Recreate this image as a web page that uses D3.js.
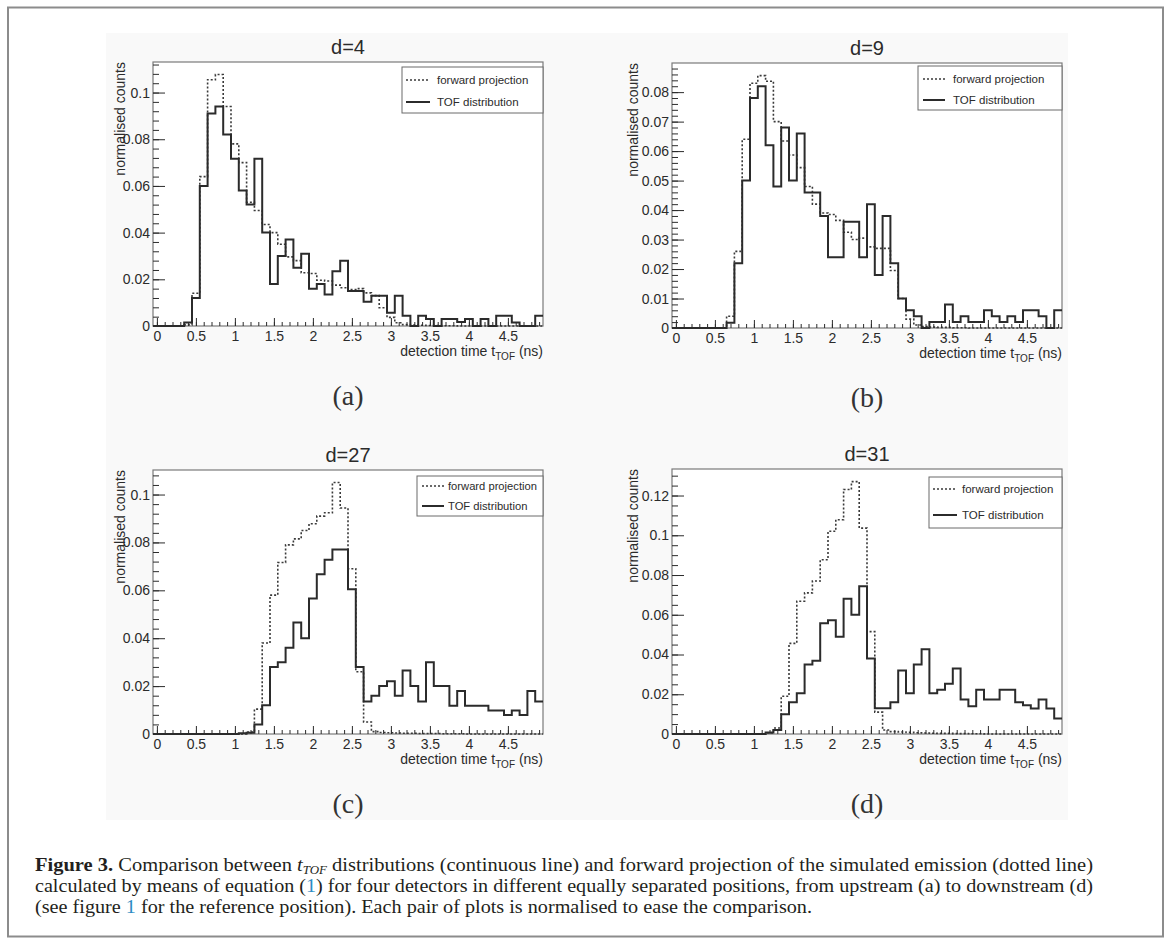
<!DOCTYPE html>
<html>
<head>
<meta charset="utf-8">
<script src="https://cdn.jsdelivr.net/npm/d3@7"></script>
<style>
  html, body { margin: 0; padding: 0; background: #fff; }
  svg { display: block; }
  .caption { font-family: "Liberation Serif", "Times New Roman", serif; fill: #231f20; }
</style>
</head>
<body>
<svg id="fig" width="1170" height="938"></svg>
<script>
// histogram bins: centres in ns, width 0.1 ns
const BIN_WIDTH = 0.1;
const binCentres = [0, 0.1, 0.2, 0.3, 0.4, 0.5, 0.6, 0.7, 0.8, 0.9,
  1.0, 1.1, 1.2, 1.3, 1.4, 1.5, 1.6, 1.7, 1.8, 1.9,
  2.0, 2.1, 2.2, 2.3, 2.4, 2.5, 2.6, 2.7, 2.8, 2.9,
  3.0, 3.1, 3.2, 3.3, 3.4, 3.5, 3.6, 3.7, 3.8, 3.9,
  4.0, 4.1, 4.2, 4.3, 4.4, 4.5, 4.6, 4.7, 4.8, 4.9];

// d=4
const tofD4 = [0, 0, 0, 0, 0.0015, 0.012, 0.060, 0.091, 0.094, 0.082,
  0.0716, 0.058, 0.052, 0.0716, 0.040, 0.018, 0.030, 0.037, 0.025, 0.031,
  0.016, 0.018, 0.0135, 0.0235, 0.028, 0.015, 0.015, 0.0104, 0.013, 0.013,
  0.0057, 0.013, 0.0044, 0, 0.0044, 0.003, 0, 0.003, 0.003, 0.0017,
  0.003, 0, 0.003, 0, 0.0044, 0.0044, 0.0015, 0, 0, 0.0044];
const fwdD4 = [0, 0, 0, 0, 0.0005, 0.014, 0.064, 0.1055, 0.1077, 0.094,
  0.078, 0.070, 0.053, 0.0495, 0.0435, 0.040, 0.035, 0.0296, 0.028, 0.0228,
  0.0225, 0.0196, 0.0193, 0.0175, 0.0164, 0.0156, 0.016, 0.0142, 0.013, 0.0078,
  0.0037, 0.0014, 0.0006, 0.0004, 0.0003, 0.0002, 0.0002, 0.0001, 0.0001, 0,
  0, 0, 0, 0, 0, 0, 0, 0, 0, 0];

// d=9
const tofD9 = [0, 0, 0, 0, 0, 0, 0, 0.0018, 0.022, 0.050,
  0.078, 0.082, 0.062, 0.048, 0.068, 0.050, 0.066, 0.046, 0.046, 0.038,
  0.024, 0.024, 0.036, 0.036, 0.024, 0.042, 0.018, 0.038, 0.022, 0.010,
  0.006, 0.004, 0, 0.002, 0.002, 0.008, 0.002, 0.004, 0.002, 0.002,
  0.006, 0.004, 0.002, 0.004, 0.002, 0.006, 0.006, 0.004, 0, 0.006];
const fwdD9 = [0, 0, 0, 0, 0, 0, 0, 0.004, 0.026, 0.064,
  0.083, 0.0856, 0.0837, 0.070, 0.0634, 0.0587, 0.0544, 0.048, 0.042, 0.039,
  0.0385, 0.0365, 0.0325, 0.030, 0.0305, 0.0275, 0.027, 0.027, 0.0195, 0.010,
  0.003, 0.001, 0.0005, 0.0003, 0.0002, 0.0002, 0.0001, 0.0001, 0, 0,
  0, 0, 0, 0, 0, 0, 0, 0, 0, 0];

// d=27
const tofD27 = [0, 0, 0, 0, 0, 0, 0, 0, 0, 0,
  0, 0.0003, 0.0005, 0.004, 0.012, 0.028, 0.030, 0.036, 0.0466, 0.040,
  0.0566, 0.0667, 0.0728, 0.077, 0.077, 0.0605, 0.028, 0.0136, 0.016, 0.020,
  0.022, 0.016, 0.0265, 0.020, 0.0136, 0.030, 0.020, 0.020, 0.0118, 0.018,
  0.0118, 0.0118, 0.0118, 0.0098, 0.0098, 0.0079, 0.0098, 0.0079, 0.018, 0.0136];
const fwdD27 = [0, 0, 0, 0, 0, 0, 0, 0, 0, 0,
  0, 0, 0.0008, 0.0104, 0.038, 0.058, 0.0716, 0.079, 0.0815, 0.085,
  0.0878, 0.091, 0.0924, 0.105, 0.0944, 0.069, 0.026, 0.005, 0.001, 0.0006,
  0.0005, 0.0004, 0.0003, 0.0003, 0.0002, 0.0002, 0.0002, 0.0001, 0.0001, 0.0001,
  0, 0, 0, 0, 0, 0, 0, 0, 0, 0];

// d=31
const tofD31 = [0, 0, 0, 0, 0, 0, 0, 0, 0, 0,
  0, 0, 0.0008, 0.002, 0.010, 0.016, 0.0205, 0.035, 0.0368, 0.0557,
  0.0573, 0.049, 0.068, 0.060, 0.0744, 0.038, 0.013, 0.013, 0.016, 0.032,
  0.0205, 0.035, 0.0426, 0.0205, 0.0223, 0.0253, 0.033, 0.0173, 0.014, 0.0223,
  0.0173, 0.0173, 0.0223, 0.0223, 0.016, 0.0145, 0.0128, 0.0173, 0.0128, 0.0078];
const fwdD31 = [0, 0, 0, 0, 0, 0, 0, 0, 0, 0,
  0, 0, 0.0005, 0.003, 0.019, 0.0456, 0.0668, 0.071, 0.077, 0.0877,
  0.102, 0.1078, 0.123, 0.127, 0.1036, 0.0515, 0.011, 0.002, 0.0012, 0.001,
  0.0008, 0.0006, 0.0005, 0.0004, 0.0003, 0.0003, 0.0002, 0.0002, 0.0001, 0.0001,
  0, 0, 0, 0, 0, 0, 0, 0, 0, 0];

const titles = ['d=4', 'd=9', 'd=27', 'd=31'];
const subLabels = ['(a)', '(b)', '(c)', '(d)'];
const legendLabels = ['forward projection', 'TOF distribution'];

// tick labels
const xTickValues = [0, 0.5, 1, 1.5, 2, 2.5, 3, 3.5, 4, 4.5];
const yTicksD4 = [0, 0.02, 0.04, 0.06, 0.08, 0.1];
const yTicksD9 = [0, 0.01, 0.02, 0.03, 0.04, 0.05, 0.06, 0.07, 0.08];
const yTicksD27 = [0, 0.02, 0.04, 0.06, 0.08, 0.1];
const yTicksD31 = [0, 0.02, 0.04, 0.06, 0.08, 0.1, 0.12];

// layout of each pad (pixels)
const panels = [
  {tof: tofD4, fwd: fwdD4, yTicks: yTicksD4, yMinor: 0.004,
   x0: 153, x1: 543, y0: 62, y1: 326, ylabX: 125,
   leg: {x0: 402, x1: 543, y0: 67, y1: 113, s0: 406, s1: 430, tx: 437, r1: 80, r2: 102, fs: 11.5}},
  {tof: tofD9, fwd: fwdD9, yTicks: yTicksD9, yMinor: 0.002,
   x0: 672, x1: 1062, y0: 63, y1: 328, ylabX: 638,
   leg: {x0: 918, x1: 1062, y0: 66, y1: 110, s0: 923, s1: 945, tx: 953, r1: 79, r2: 100, fs: 11.5}},
  {tof: tofD27, fwd: fwdD27, yTicks: yTicksD27, yMinor: 0.004,
   x0: 153, x1: 543, y0: 470, y1: 734, ylabX: 125,
   leg: {x0: 417, x1: 543, y0: 476, y1: 516, s0: 422, s1: 444, tx: 448, r1: 486, r2: 506, fs: 11.2}},
  {tof: tofD31, fwd: fwdD31, yTicks: yTicksD31, yMinor: 0.005,
   x0: 672, x1: 1062, y0: 469, y1: 734, ylabX: 638,
   leg: {x0: 929, x1: 1062, y0: 477, y1: 528, s0: 933, s1: 957, tx: 962, r1: 489, r2: 515, fs: 11.5}}
];

const SANS = '"Liberation Sans", Arial, Helvetica, sans-serif';
const SERIF = '"Liberation Serif", "Times New Roman", serif';
const INK = '#2b2b2b';

const svg = d3.select('#fig');

// outer border and light figure background
svg.append('rect')
  .attr('x', 106).attr('y', 33).attr('width', 962).attr('height', 787)
  .attr('fill', '#f9f9f9');
svg.append('rect')
  .attr('x', 8).attr('y', 7.5).attr('width', 1155).attr('height', 929)
  .attr('fill', 'none').attr('stroke', '#8c8c8c').attr('stroke-width', 2);

// step outline of a histogram: left and right edge of every bin
const steps = vals => vals.flatMap((v, i) => [
  [binCentres[i] - BIN_WIDTH / 2, v],
  [binCentres[i] + BIN_WIDTH / 2, v]
]);

const fmt = d3.format('~g');

const drawPanel = (p, idx) => {
  const g = svg.append('g');

  const x = d3.scaleLinear()
    .domain([binCentres[0] - BIN_WIDTH / 2, binCentres[binCentres.length - 1] + BIN_WIDTH / 2])
    .range([p.x0, p.x1]);
  const yMax = 1.05 * d3.max([...p.tof, ...p.fwd]);
  const y = d3.scaleLinear().domain([0, yMax]).range([p.y1, p.y0]);

  // frame
  g.append('rect')
    .attr('x', p.x0).attr('y', p.y0)
    .attr('width', p.x1 - p.x0).attr('height', p.y1 - p.y0)
    .attr('fill', '#fff').attr('stroke', '#7a7a7a').attr('stroke-width', 1.2);

  const line = d3.line().x(d => x(d[0])).y(d => y(d[1]));

  // forward projection (dotted)
  g.append('path')
    .attr('d', line(steps(p.fwd)))
    .attr('fill', 'none').attr('stroke', '#3a3a3a')
    .attr('stroke-width', 1.6).attr('stroke-dasharray', '2,2');

  // TOF distribution (solid)
  g.append('path')
    .attr('d', line(steps(p.tof)))
    .attr('fill', 'none').attr('stroke', INK)
    .attr('stroke-width', 2).attr('stroke-linejoin', 'miter');

  // x axis, ticks inside the frame
  g.append('g')
    .attr('transform', `translate(0, ${p.y1})`)
    .call(d3.axisBottom(x).tickValues(binCentres).tickSize(-4).tickFormat(''))
    .call(a => a.select('.domain').remove());
  g.append('g')
    .attr('transform', `translate(0, ${p.y1})`)
    .call(d3.axisBottom(x).tickValues(xTickValues).tickSize(-8).tickPadding(5).tickFormat(fmt))
    .call(a => a.select('.domain').remove())
    .attr('font-family', SANS).attr('font-size', 14).attr('color', INK);

  // y axis
  const minor = d3.range(0, yMax, p.yMinor);
  g.append('g')
    .attr('transform', `translate(${p.x0}, 0)`)
    .call(d3.axisLeft(y).tickValues(minor).tickSize(-6).tickFormat(''))
    .call(a => a.select('.domain').remove());
  g.append('g')
    .attr('transform', `translate(${p.x0}, 0)`)
    .call(d3.axisLeft(y).tickValues(p.yTicks).tickSize(-12).tickPadding(3).tickFormat(fmt))
    .call(a => a.select('.domain').remove())
    .attr('font-family', SANS).attr('font-size', 14).attr('color', INK);

  g.selectAll('.tick line').attr('stroke', INK).attr('stroke-width', 1);

  // axis titles
  const xt = g.append('text')
    .attr('x', p.x1).attr('y', p.y1 + 30)
    .attr('text-anchor', 'end')
    .attr('font-family', SANS).attr('font-size', 14).attr('fill', INK);
  xt.append('tspan').text('detection time t');
  xt.append('tspan').attr('font-size', 10).attr('dy', 4).text('TOF');
  xt.append('tspan').attr('dy', -4).text(' (ns)');

  g.append('text')
    .attr('transform', `translate(${p.ylabX}, ${p.y0}) rotate(-90)`)
    .attr('text-anchor', 'end')
    .attr('font-family', SANS).attr('font-size', 14).attr('fill', INK)
    .text('normalised counts');

  // pad title
  g.append('text')
    .attr('x', (p.x0 + p.x1) / 2).attr('y', p.y0 - 8)
    .attr('text-anchor', 'middle')
    .attr('font-family', SANS).attr('font-size', 20).attr('fill', INK)
    .text(titles[idx]);

  // legend
  const L = p.leg;
  g.append('rect')
    .attr('x', L.x0).attr('y', L.y0)
    .attr('width', L.x1 - L.x0).attr('height', L.y1 - L.y0)
    .attr('fill', '#fff').attr('stroke', '#6a6a6a').attr('stroke-width', 1);
  g.append('line')
    .attr('x1', L.s0).attr('x2', L.s1).attr('y1', L.r1).attr('y2', L.r1)
    .attr('stroke', '#3a3a3a').attr('stroke-width', 1.6).attr('stroke-dasharray', '2,2');
  g.append('line')
    .attr('x1', L.s0).attr('x2', L.s1).attr('y1', L.r2).attr('y2', L.r2)
    .attr('stroke', INK).attr('stroke-width', 2);
  [L.r1, L.r2].forEach((ry, k) => {
    g.append('text')
      .attr('x', L.tx).attr('y', ry + 4)
      .attr('font-family', SANS).attr('font-size', L.fs).attr('fill', INK)
      .text(legendLabels[k]);
  });

  // sub-figure label
  g.append('text')
    .attr('x', (p.x0 + p.x1) / 2).attr('y', p.y1 + 79)
    .attr('text-anchor', 'middle')
    .attr('font-family', SERIF).attr('font-size', 28).attr('fill', '#333')
    .text(subLabels[idx]);
};

panels.forEach(drawPanel);

// caption
const BLUE = '#2b8cc4';
const captionLines = [
  {y: 871, w: 1058, parts: [
    {t: 'Figure 3.', bold: true},
    {t: ' Comparison between '},
    {t: 't', italic: true},
    {t: 'TOF', italic: true, sub: true},
    {t: ' distributions (continuous line) and forward projection of the simulated emission (dotted line)', back: true}
  ]},
  {y: 892, w: 1058, parts: [
    {t: 'calculated by means of equation ('},
    {t: '1', blue: true},
    {t: ') for four detectors in different equally separated positions, from upstream (a) to downstream (d)'}
  ]},
  {y: 913, w: 777, parts: [
    {t: '(see figure '},
    {t: '1', blue: true},
    {t: ' for the reference position). Each pair of plots is normalised to ease the comparison.'}
  ]}
];

captionLines.forEach(l => {
  const t = svg.append('text')
    .attr('class', 'caption')
    .attr('x', 35).attr('y', l.y)
    .attr('font-size', 19)
    .attr('textLength', l.w)
    .attr('lengthAdjust', 'spacingAndGlyphs');
  l.parts.forEach(s => {
    const ts = t.append('tspan').text(s.t);
    if (s.bold) ts.attr('font-weight', 'bold');
    if (s.italic) ts.attr('font-style', 'italic');
    if (s.sub) ts.attr('font-size', 12).attr('dy', 3);
    if (s.back) ts.attr('dy', -3);
    if (s.blue) ts.attr('fill', BLUE);
  });
});
</script>
</body>
</html>
